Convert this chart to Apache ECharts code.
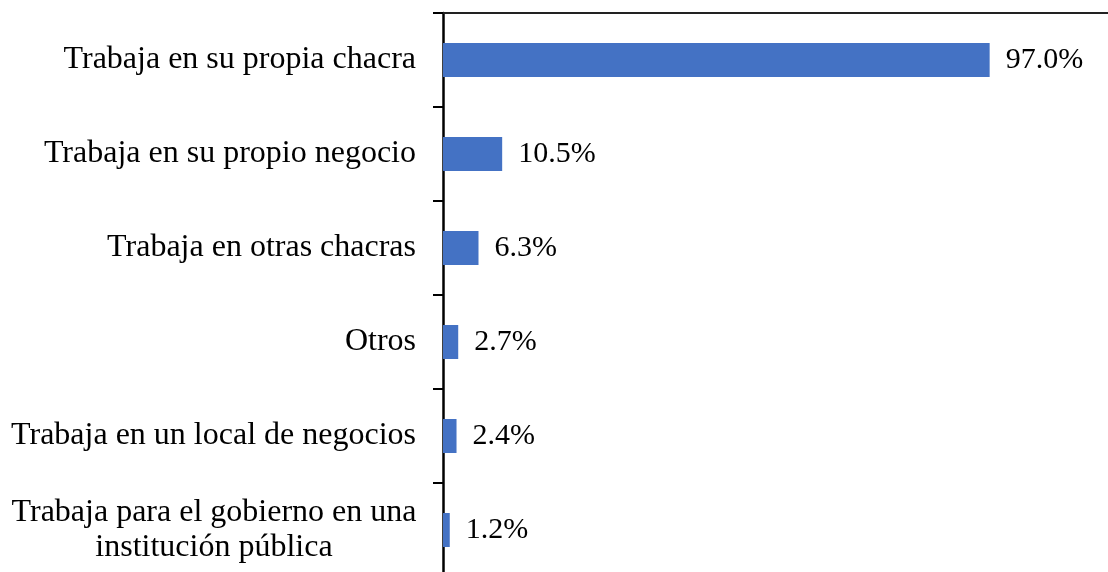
<!DOCTYPE html>
<html>
<head>
<meta charset="utf-8">
<script src="https://cdn.jsdelivr.net/npm/echarts@6/dist/echarts.min.js"></script>
<style>html,body{margin:0;padding:0;background:#fff}#c{width:1108px;height:572px}</style>
</head>
<body>
<div id="c"></div>
<script>
var categories = [
  'Trabaja en su propia chacra',
  'Trabaja en su propio negocio',
  'Trabaja en otras chacras',
  'Otros',
  'Trabaja en un local de negocios',
  'Trabaja para el gobierno en una\ninstitución pública'
];
var values = [97.0, 10.5, 6.3, 2.7, 2.4, 1.2];

var chart = echarts.init(document.getElementById('c'));
var font = '"Liberation Serif", "Times New Roman", serif';
chart.setOption({
  animation: false,
  grid: { left: 443, right: 0, top: 13, height: 564, containLabel: false, outerBoundsMode: 'none' },
  xAxis: {
    type: 'value', position: 'top', min: 0, max: 118,
    axisLine: { show: true, lineStyle: { color: '#222', width: 2 } },
    axisTick: { show: false }, axisLabel: { show: false }, splitLine: { show: false }
  },
  yAxis: {
    type: 'category', inverse: true, data: categories,
    axisLine: { show: true, lineStyle: { color: '#000', width: 2.5 } },
    axisTick: { show: true, length: 10, lineStyle: { color: '#000', width: 2 } },
    axisLabel: {
      margin: 27, color: '#000', fontFamily: font, fontSize: 32, lineHeight: 35,
      formatter: function (v) {
        if (v.indexOf('\n') >= 0) {
          return v.split('\n').map(function (s) { return '{c|' + s + '}'; }).join('\n');
        }
        return v;
      },
      rich: { c: { width: 404, align: 'center', fontFamily: font, fontSize: 32, lineHeight: 35, color: '#000' } }
    }
  },
  series: [{
    type: 'bar', data: values, barWidth: 34,
    itemStyle: { color: '#4472C4' },
    label: {
      show: true, position: 'right', distance: 16, color: '#000',
      fontFamily: font, fontSize: 30,
      formatter: function (p) { return p.value.toFixed(1) + '%'; }
    }
  }]
});
</script>
</body>
</html>
